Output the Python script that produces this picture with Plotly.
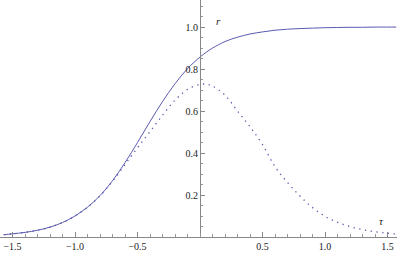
import plotly.graph_objects as go

x_vals = [-1.57, -1.5, -1.4, -1.3, -1.2, -1.1, -1.0, -0.9, -0.8, -0.7, -0.6, -0.5, -0.4,
          -0.3, -0.2, -0.1, 0.0, 0.05, 0.1, 0.2, 0.3, 0.4, 0.5, 0.6, 0.7, 0.8, 0.9, 1.0,
          1.1, 1.2, 1.3, 1.4, 1.5, 1.57]
r_vals = [0.011, 0.015, 0.022, 0.032, 0.047, 0.069, 0.100, 0.142, 0.197, 0.268, 0.354,
          0.450, 0.550, 0.645, 0.730, 0.802, 0.857, 0.880, 0.900, 0.931, 0.952, 0.967,
          0.977, 0.985, 0.990, 0.993, 0.995, 0.997, 0.998, 0.999, 0.999, 1.0, 1.0, 1.0]
tau_vals = [0.011, 0.015, 0.022, 0.032, 0.047, 0.069, 0.100, 0.142, 0.196, 0.265, 0.345,
            0.425, 0.502, 0.580, 0.652, 0.703, 0.727, 0.728, 0.719, 0.676, 0.600, 0.525,
            0.440, 0.335, 0.260, 0.195, 0.140, 0.098, 0.070, 0.050, 0.035, 0.025, 0.018, 0.014]

x_ticks = [-1.5, -1.0, -0.5, 0.5, 1.0, 1.5]
x_labels = ["\u22121.5", "\u22121.0", "\u22120.5", "0.5", "1.0", "1.5"]
y_ticks = [0.2, 0.4, 0.6, 0.8, 1.0]
y_labels = ["0.2", "0.4", "0.6", "0.8", "1.0"]

line_col = "#5a5ab0"
font = "Liberation Serif"
x_range = [-1.6, 1.576]
y_range = [0, 1.129]

fig = go.Figure()

# solid curve r
fig.add_trace(go.Scatter(x=x_vals, y=r_vals, mode="lines", line_shape="spline",
                         line=dict(color=line_col, width=1), showlegend=False))
# dotted curve tau
fig.add_trace(go.Scatter(x=x_vals, y=tau_vals, mode="lines", line_shape="spline",
                         line=dict(color=line_col, width=1.3, dash="1.3px,4.5px"),
                         showlegend=False))

# curve labels
fig.add_annotation(x=0.15, y=1.03, text="<i>r</i>", showarrow=False,
                   font=dict(family=font, size=11, color="#222"))
fig.add_annotation(x=1.45, y=0.076, text="<i>\u03c4</i>", showarrow=False,
                   font=dict(family=font, size=11, color="#222"))

fig.update_xaxes(range=x_range, tickvals=x_ticks, ticktext=x_labels,
                 showgrid=False, zeroline=False, showline=True, linecolor="#888",
                 linewidth=1, ticks="inside", ticklen=5, tickcolor="#888",
                 minor=dict(ticks="inside", dtick=0.1, ticklen=3, tickcolor="#999"),
                 tickfont=dict(family=font, size=10, color="#222"))
fig.update_yaxes(range=y_range, tickvals=y_ticks, ticktext=y_labels,
                 anchor="free", position=(0 - x_range[0]) / (x_range[1] - x_range[0]),
                 showgrid=False, zeroline=False, showline=True, linecolor="#888",
                 linewidth=1, ticks="inside", ticklen=4, tickcolor="#888",
                 minor=dict(ticks="inside", dtick=0.05, ticklen=2, tickcolor="#999"),
                 tickfont=dict(family=font, size=10, color="#222"))

fig.update_layout(width=397, height=255, margin=dict(l=0, r=0, t=0, b=18),
                  font=dict(family=font), plot_bgcolor="white", paper_bgcolor="white")

# drop the default page margin so the figure fills the window
fig.write_html("out.html", config={"displayModeBar": False},
               post_script="document.body.style.margin='0';")
